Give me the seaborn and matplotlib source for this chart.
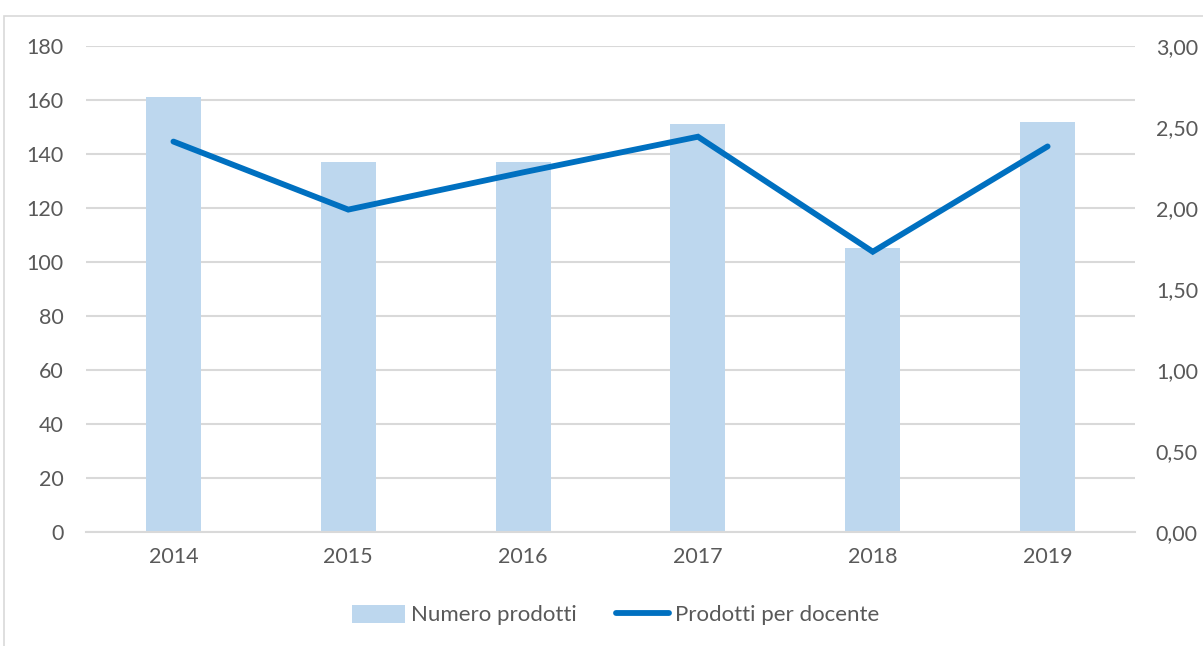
import pandas as pd
import numpy as np
import matplotlib
matplotlib.use("Agg")
import matplotlib.pyplot as plt
import seaborn as sns
from matplotlib.patches import Rectangle

# data
anni = ["2014", "2015", "2016", "2017", "2018", "2019"]
numero_prodotti = [161, 137, 137, 151, 105, 152]
prodotti_per_docente = [2.41, 1.99, 2.22, 2.44, 1.73, 2.38]

df = pd.DataFrame({
    "Anno": anni,
    "Numero prodotti": numero_prodotti,
    "Prodotti per docente": prodotti_per_docente,
})

sns.set_style("white")
plt.rcParams["font.family"] = ["Lato", "DejaVu Sans"]

text_col = "#595959"
grid_col = "#D9D9D9"
bar_col = "#BDD7EE"
line_col = "#0070C0"
fs = 15.5

fig = plt.figure(figsize=(12.03, 6.46), dpi=100)
ax = fig.add_axes([0.0715, 0.1765, 0.872, 0.7523])

# outer chart frame
fig.patches.append(Rectangle((4 / 1203, -0.1), 1.2, 1 - 16 / 646 + 0.1,
                             transform=fig.transFigure, fill=False,
                             edgecolor="#D9D9D9", lw=1.2))

sns.barplot(data=df, x="Anno", y="Numero prodotti", color=bar_col,
            width=0.315, saturation=1, ax=ax, zorder=2, edgecolor="none",
            label="Numero prodotti")
ax.set_ylim(0, 180)
ax.set_yticks(np.arange(0, 181, 20))
ax.set_xlim(-0.5, 5.5)
ax.yaxis.grid(True, color=grid_col, lw=1.5, zorder=0)
ax.set_axisbelow(True)
for s in ["top", "right", "left"]:
    ax.spines[s].set_visible(False)
ax.spines["bottom"].set_color(grid_col)
ax.spines["bottom"].set_linewidth(1.5)
ax.set_xlabel("")
ax.set_ylabel("")
ax.tick_params(axis="both", length=0, labelsize=fs, colors=text_col)
ax.tick_params(axis="x", pad=11)
ax.tick_params(axis="y", pad=16)

ax2 = ax.twinx()
sns.lineplot(x=np.arange(len(anni)), y=prodotti_per_docente, color=line_col,
             lw=4.2, ax=ax2, label="Prodotti per docente",
             solid_capstyle="round", solid_joinstyle="miter")
ax2.set_ylim(0, 3)
ax2.set_yticks(np.arange(0, 3.01, 0.5))
ax2.set_yticklabels([f"{v:.2f}".replace(".", ",") for v in np.arange(0, 3.01, 0.5)])
ax2.tick_params(axis="y", length=0, labelsize=fs, colors=text_col, pad=15)
for s in ["top", "right", "left", "bottom"]:
    ax2.spines[s].set_visible(False)
ax2.set_ylabel("")
ax2.get_legend().remove()

h1, l1 = ax.get_legend_handles_labels()
h2, l2 = ax2.get_legend_handles_labels()
leg = fig.legend(h1 + h2, l1 + l2, loc="center", bbox_to_anchor=(0.512, 0.048),
                 ncol=2, frameon=False, fontsize=16, handlelength=2.4,
                 handleheight=0.9, columnspacing=1.75, handletextpad=0.27)
for t in leg.get_texts():
    t.set_color(text_col)
if ax.get_legend() is not None:
    ax.get_legend().remove()

fig.savefig("out.png", dpi=100)
